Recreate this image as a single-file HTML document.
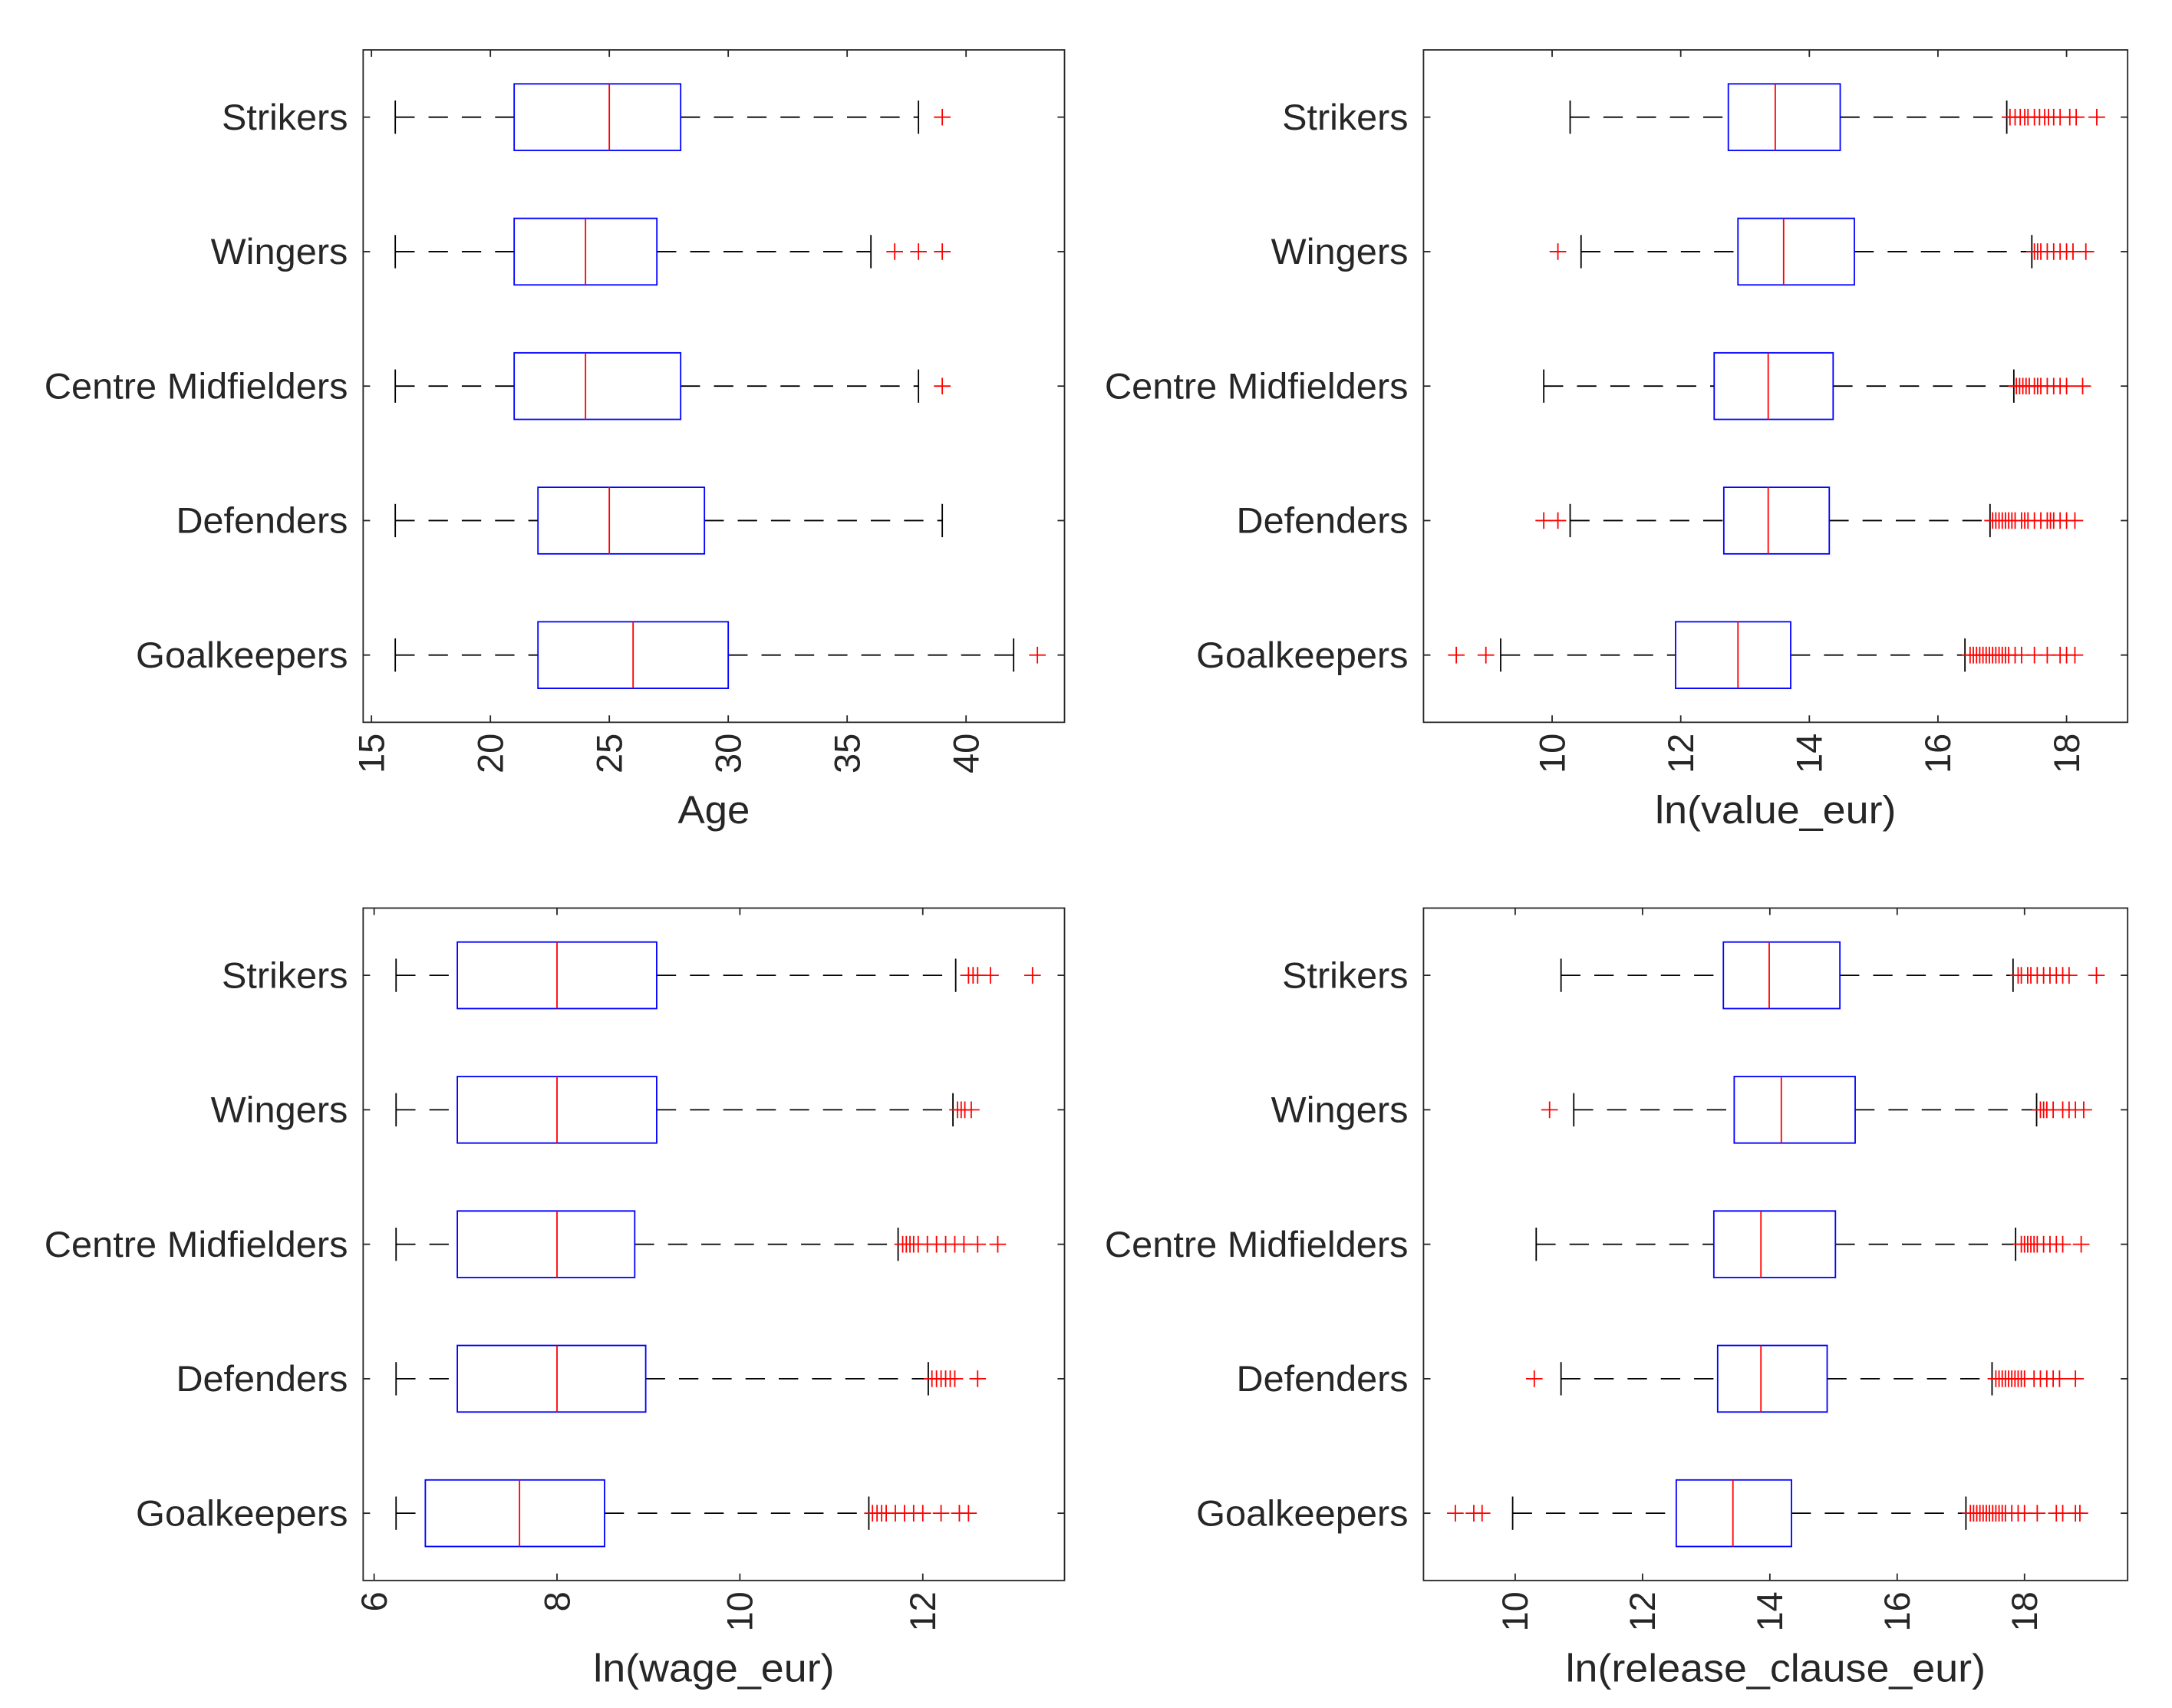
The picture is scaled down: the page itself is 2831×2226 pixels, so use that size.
<!DOCTYPE html>
<html><head><meta charset="utf-8"><style>
html,body{margin:0;padding:0;background:#fff;}
svg{display:block;}
text{font-family:"Liberation Sans",sans-serif;fill:#262626;}
</style></head><body>
<svg id="fig" width="2831" height="2226" viewBox="0 0 1567 1232" preserveAspectRatio="none" xmlns="http://www.w3.org/2000/svg"></svg>
<script>
// ---- data ----
const categories = ["Goalkeepers","Defenders","Centre Midfielders","Wingers","Strikers"];
const catWidths = [153,124,219,99,91];
// [whiskerLo, q1, median, q3, whiskerHi]
const ageStats = [[16,22,26,30,42],[16,22,25,29,39],[16,21,24,28,38],[16,21,24,27,36],[16,21,25,28,38]];
const ageOut = [[43],[],[39],[37,38,39],[39]];
const ageTicks = [15,20,25,30,35,40];
const valueStats = [[9.2,11.92,12.89,13.71,16.42],[10.28,12.67,13.36,14.31,16.81],[9.87,12.52,13.36,14.37,17.18],[10.45,12.89,13.6,14.7,17.46],[10.28,12.74,13.47,14.48,17.07]];
const valueOut = [[8.51,8.97,16.5,16.55,16.6,16.65,16.7,16.75,16.8,16.85,16.9,16.95,17.0,17.05,17.1,17.2,17.3,17.5,17.7,17.9,18.0,18.13],
 [9.87,10.09,16.85,16.9,16.95,17.0,17.05,17.1,17.15,17.2,17.3,17.35,17.4,17.5,17.6,17.7,17.75,17.8,17.9,18.0,18.13],
 [17.22,17.27,17.32,17.37,17.42,17.5,17.55,17.6,17.7,17.8,17.9,18.0,18.25],
 [10.09,17.5,17.55,17.6,17.7,17.8,17.9,18.0,18.1,18.3],
 [17.12,17.2,17.28,17.35,17.4,17.5,17.58,17.66,17.72,17.8,17.9,18.05,18.15,18.47]];
const valueTicks = [10,12,14,16,18];
const wageStats = [[6.24,6.56,7.59,8.52,11.41],[6.24,6.91,8.0,8.97,12.06],[6.24,6.91,8.0,8.85,11.73],[6.24,6.91,8.0,9.09,12.33],[6.24,6.91,8.0,9.09,12.36]];
const wageOut = [[11.45,11.5,11.55,11.6,11.7,11.8,11.9,12.0,12.2,12.4,12.5],
 [12.1,12.15,12.2,12.25,12.3,12.35,12.6],
 [11.78,11.82,11.86,11.9,11.95,12.05,12.15,12.25,12.35,12.45,12.6,12.82],
 [12.38,12.42,12.46,12.53],
 [12.5,12.55,12.6,12.74,13.2]];
const wageTicks = [6,8,10,12];
const relStats = [[9.96,12.53,13.42,14.34,17.08],[10.72,13.18,13.86,14.9,17.49],[10.33,13.12,13.86,15.03,17.86],[10.92,13.44,14.18,15.34,18.19],[10.72,13.27,13.99,15.1,17.82]];
const relOut = [[9.06,9.35,9.48,17.15,17.2,17.25,17.3,17.35,17.4,17.45,17.5,17.55,17.6,17.65,17.7,17.8,17.9,18.0,18.2,18.5,18.6,18.8,18.87],
 [10.3,17.55,17.6,17.65,17.7,17.75,17.8,17.85,17.9,17.95,18.0,18.15,18.25,18.35,18.45,18.55,18.8],
 [17.95,18.0,18.05,18.1,18.15,18.2,18.3,18.4,18.5,18.6,18.89],
 [10.54,18.25,18.3,18.35,18.45,18.6,18.7,18.8,18.93],
 [17.9,17.95,18.05,18.1,18.2,18.3,18.4,18.5,18.6,18.7,19.13]];
const relTicks = [10,12,14,16,18];

const svg = document.getElementById('fig');
const NS = "http://www.w3.org/2000/svg";
function mk(tag, attrs, parent){ const e=document.createElementNS(NS,tag); for(const k in attrs) e.setAttribute(k,attrs[k]); (parent||svg).appendChild(e); return e; }

function panel(name, L, R, T, B, xmin, xmax, stats, outs, ticks, xlabel, xlabelW, xlabelY){
  const g = mk('g',{});
  
  
  const sx = v => L + (v - xmin) / (xmax - xmin) * (R - L);
  const sy = i => B - (i + 0.5) * (B - T) / 5;
  const bh = 24, ch = 12, tl = 5;
  const fr = mk('rect',{x:L,y:T,width:R-L,height:B-T,fill:'none',stroke:'#262626','stroke-width':1},g);
  
  
  categories.forEach((c,i)=>{
    const y = sy(i);
    mk('line',{x1:L,x2:L+tl,y1:y,y2:y,stroke:'#262626','stroke-width':1},g);
    mk('line',{x1:R,x2:R-tl,y1:y,y2:y,stroke:'#262626','stroke-width':1},g);
    const t = mk('text',{x:L-11,y:y+9,'font-size':26,'text-anchor':'end',textLength:catWidths[i],lengthAdjust:'spacingAndGlyphs'},g);
    t.textContent = c;
    
    
  });
  ticks.forEach(v=>{
    const x = sx(v);
    mk('line',{x1:x,x2:x,y1:B,y2:B-tl,stroke:'#262626','stroke-width':1},g);
    mk('line',{x1:x,x2:x,y1:T,y2:T+tl,stroke:'#262626','stroke-width':1},g);
    const t = mk('text',{x:0,y:0,'font-size':26,'text-anchor':'end',transform:`translate(${x+9},${B+8}) rotate(-90)`},g);
    t.textContent = v;
    
    
  });
  const xl = mk('text',{x:(L+R)/2,y:xlabelY,'font-size':28,'text-anchor':'middle',textLength:xlabelW,lengthAdjust:'spacingAndGlyphs'},g);
  xl.textContent = xlabel;
  
  
  stats.forEach((s,i)=>{
    const y = sy(i);
    const bg = mk('g',{},g);
    
    
    mk('line',{x1:sx(s[0]),x2:sx(s[1]),y1:y,y2:y,stroke:'#000','stroke-width':1,'stroke-dasharray':'14 10'},bg);
    mk('line',{x1:sx(s[3]),x2:sx(s[4]),y1:y,y2:y,stroke:'#000','stroke-width':1,'stroke-dasharray':'14 10'},bg);
    mk('line',{x1:sx(s[0]),x2:sx(s[0]),y1:y-ch,y2:y+ch,stroke:'#000','stroke-width':1},bg);
    mk('line',{x1:sx(s[4]),x2:sx(s[4]),y1:y-ch,y2:y+ch,stroke:'#000','stroke-width':1},bg);
    mk('rect',{x:sx(s[1]),y:y-bh,width:sx(s[3])-sx(s[1]),height:2*bh,fill:'none',stroke:'#0000ff','stroke-width':1},bg);
    mk('line',{x1:sx(s[2]),x2:sx(s[2]),y1:y-bh,y2:y+bh,stroke:'#ff0000','stroke-width':1},bg);
    outs[i].forEach(v=>{
      const x = sx(v);
      mk('path',{d:`M${x-6},${y}H${x+6}M${x},${y-6}V${y+6}`,stroke:'#ff0000','stroke-width':1,fill:'none'},bg);
    });
  });
}
panel('age', 262, 768, 36, 521, 14.65, 44.14, ageStats, ageOut, ageTicks, 'Age', 52, 594);
panel('value', 1027, 1535, 36, 521, 8.0, 18.95, valueStats, valueOut, valueTicks, 'ln(value_eur)', 174, 594);
panel('wage', 262, 768, 655, 1140, 5.88, 13.55, wageStats, wageOut, wageTicks, 'ln(wage_eur)', 174, 1213);
panel('release', 1027, 1535, 655, 1140, 8.56, 19.62, relStats, relOut, relTicks, 'ln(release_clause_eur)', 303, 1213);
</script>
</body></html>
